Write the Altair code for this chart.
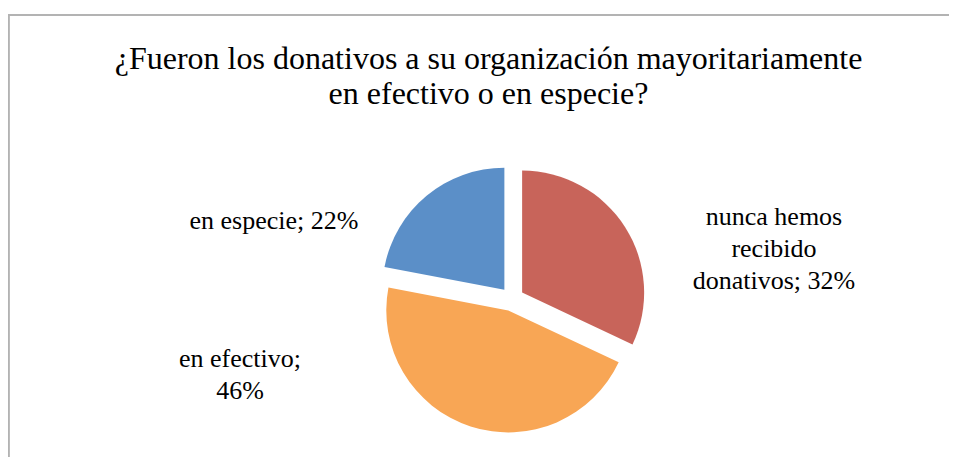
import math
import altair as alt
import pandas as pd

# ---- data ----
categories = ["nunca hemos recibido donativos", "en efectivo", "en especie"]
values = [32, 46, 22]
colors = ["#C8645A", "#F8A655", "#5B8FC8"]
label_lines = [
    ["nunca hemos", "recibido", "donativos; 32%"],
    ["en efectivo;", "46%"],
    ["en especie; 22%"],
]
title_lines = [
    "¿Fueron los donativos a su organización mayoritariamente",
    "en efectivo o en especie?",
]

df = pd.DataFrame({"category": categories, "value": values, "idx": list(range(len(values)))})

# ---- layout / style ----
W, H = 933, 335
PAD = {"left": 4, "top": 110, "right": 4, "bottom": 4}
CX, CY = 500, 181
R = 122
EXPLODE = 12
FONT = "Liberation Serif"
label_pos = [(762, 107), (228, 249), (262, 111)]

total = sum(values)
cum = 0
layers = []
for i, (cat, v) in enumerate(zip(categories, values)):
    mid = (cum + v / 2) / total * 2 * math.pi
    cum += v
    dx = EXPLODE * math.sin(mid)
    dy = -EXPLODE * math.cos(mid)
    layer = alt.Chart(df).mark_arc(
        outerRadius=R, x=CX, y=CY, xOffset=dx, yOffset=dy
    ).encode(
        theta=alt.Theta("value:Q", stack=True),
        order=alt.Order("idx:Q"),
        color=alt.Color("category:N", scale=alt.Scale(domain=categories, range=colors), legend=None),
        opacity=alt.condition(alt.datum.category == cat, alt.value(1), alt.value(0)),
    )
    layers.append(layer)

for i, cat in enumerate(categories):
    lx, ly = label_pos[i]
    t = alt.Chart(df).transform_filter(alt.datum.category == cat).transform_calculate(
        lbl="'" + "\\n".join(label_lines[i]) + "'"
    ).mark_text(
        x=lx, y=ly, align="center", baseline="alphabetic", font=FONT, fontSize=26,
        color="#000000", lineBreak="\n", lineHeight=32
    ).encode(text="lbl:N")
    layers.append(t)

frame_top = alt.Chart(df).mark_rule(color="#B3B3B3", strokeWidth=2).encode(
    x=alt.value(-4), x2=alt.value(W + 4), y=alt.value(-103)
)
frame_left = alt.Chart(df).mark_rule(color="#B3B3B3", strokeWidth=2).encode(
    x=alt.value(-3.5), y=alt.value(-103), y2=alt.value(H + 4)
)

chart = alt.layer(frame_top, frame_left, *layers).properties(
    width=W, height=H,
    padding=PAD,
    autosize=alt.AutoSizeParams(type="none"),
    title=alt.TitleParams(
        text=title_lines, font=FONT, fontSize=32, fontWeight="normal", color="#000000",
        anchor="middle", frame="group", dx=10, dy=97, offset=0, lineHeight=35,
    ),
    background="#FFFFFF",
).configure_view(stroke=None)

chart.save("out.html", embed_options={"renderer": "svg", "actions": False})
